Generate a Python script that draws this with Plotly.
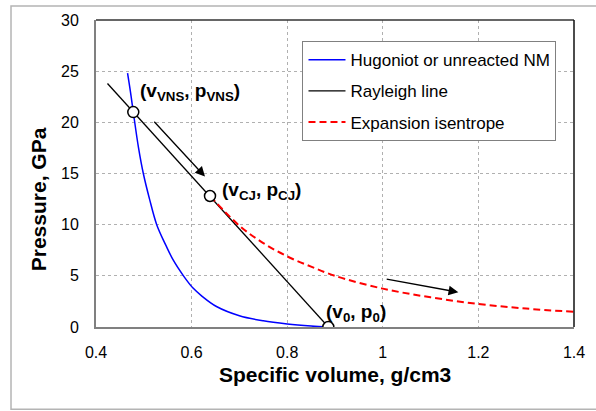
import plotly.graph_objects as go

# ---- data ----
hug_v = [0.466, 0.472, 0.478, 0.489, 0.499, 0.512, 0.527, 0.546, 0.562, 0.583, 0.603, 0.622, 0.652, 0.700, 0.750, 0.800, 0.850, 0.886]
hug_p = [24.8, 23.0, 21.0, 17.5, 15.0, 12.5, 10.0, 8.0, 6.5, 5.0, 3.8, 3.0, 2.0, 1.1, 0.6, 0.3, 0.1, 0.0]

ray_v = [0.424, 0.886]
ray_p = [23.8, 0.0]

isen_v = [0.6385, 0.70, 0.75, 0.80, 0.85, 0.90, 1.00, 1.10, 1.20, 1.30, 1.40]
isen_p = [12.8, 9.9, 8.2, 6.9, 5.9, 5.0, 3.75, 2.9, 2.25, 1.8, 1.48]

state_v = [0.478, 0.6385, 0.886]
state_p = [21.0, 12.8, 0.0]
state_labels = ["(v<sub>VNS</sub>, p<sub>VNS</sub>)", "(v<sub>CJ</sub>, p<sub>CJ</sub>)", "(v<sub>0</sub>, p<sub>0</sub>)"]
label_v = [0.487, 0.660, 0.877]
label_p = [23.0, 13.3, 1.4]

arrow_start_v = [0.519, 1.005]
arrow_start_p = [20.2, 4.7]
arrow_end_v = [0.628, 1.158]
arrow_end_p = [14.7, 3.4]

series_names = ["Hugoniot or unreacted NM", "Rayleigh line", "Expansion isentrope"]
x_title = "Specific volume, g/cm3"
y_title = "Pressure, GPa"

FONT = "Liberation Sans, Arial, sans-serif"

fig = go.Figure()
fig.add_trace(go.Scatter(x=hug_v, y=hug_p, mode="lines", name=series_names[0],
                         line=dict(color="#0000ff", width=1.5, shape="spline"),
                         legendgroup="a"))
fig.add_trace(go.Scatter(x=ray_v, y=ray_p, mode="lines", name=series_names[1],
                         line=dict(color="#000000", width=1.3), legendgroup="b"))
fig.add_trace(go.Scatter(x=isen_v, y=isen_p, mode="lines", name=series_names[2],
                         line=dict(color="#ff0000", width=2, dash="7px,4px", shape="spline"),
                         legendgroup="c"))
fig.add_trace(go.Scatter(x=state_v, y=state_p, mode="markers", showlegend=False,
                         marker=dict(size=11, color="white", line=dict(color="black", width=1.5))))

for tx, ty, t in zip(label_v, label_p, state_labels):
    fig.add_annotation(x=tx, y=ty, text="<b>" + t + "</b>", showarrow=False, xanchor="left", yanchor="middle",
                       font=dict(family=FONT, size=19, color="black"))

for sx, sy, ex, ey in zip(arrow_start_v, arrow_start_p, arrow_end_v, arrow_end_p):
    fig.add_annotation(x=ex, y=ey, ax=sx, ay=sy, xref="x", yref="y", axref="x", ayref="y",
                       text="", showarrow=True, arrowhead=2, arrowsize=1.5, arrowwidth=1.3,
                       arrowcolor="black", standoff=0)

# axis titles
fig.add_annotation(x=0.5, y=-0.155, xref="paper", yref="paper", text="<b>" + x_title + "</b>",
                   showarrow=False, xanchor="center", yanchor="middle",
                   font=dict(family=FONT, size=21, color="black"))
fig.add_annotation(x=-0.12, y=0.415, xref="paper", yref="paper", text="<b>" + y_title + "</b>",
                   showarrow=False, textangle=-90, xanchor="center", yanchor="middle",
                   font=dict(family=FONT, size=21, color="black"))

# outer chart border
fig.add_shape(type="rect", xref="paper", yref="paper", x0=-0.1778, x1=1.12, y0=-0.2683, y1=1.0455,
              line=dict(color="#b4b4b4", width=1.5), layer="below")
# plot area top/right frame
fig.add_shape(type="line", xref="paper", yref="paper", x0=0, x1=1, y0=1, y1=1,
              line=dict(color="#333333", width=1.5))
fig.add_shape(type="line", xref="paper", yref="paper", x0=1, x1=1, y0=0, y1=1,
              line=dict(color="#111111", width=1.5))

fig.update_layout(
    width=596, height=411,
    margin=dict(l=96, r=22, t=20, b=84),
    paper_bgcolor="white", plot_bgcolor="white",
    font=dict(family=FONT, size=16, color="black"),
    showlegend=True,
    legend=dict(x=0.432, y=0.931, xanchor="left", yanchor="top",
                bgcolor="white", bordercolor="#808080", borderwidth=1,
                font=dict(family=FONT, size=17, color="black"),
                tracegroupgap=6, itemwidth=37),
    xaxis=dict(range=[0.4, 1.4], dtick=0.2, tick0=0.4, showgrid=True,
               gridcolor="#b0b0b0", griddash="dot", gridwidth=1,
               showline=True, linecolor="#808080", linewidth=2,
               ticks="", ticklabelstandoff=10, zeroline=False,
               tickfont=dict(family=FONT, size=16, color="black")),
    yaxis=dict(range=[0, 30], dtick=5, showgrid=True,
               gridcolor="#b0b0b0", griddash="dot", gridwidth=1,
               showline=True, linecolor="#808080", linewidth=2,
               ticks="", ticklabelstandoff=12, zeroline=False,
               tickfont=dict(family=FONT, size=16, color="black")),
)

fig.write_html("out.html")
